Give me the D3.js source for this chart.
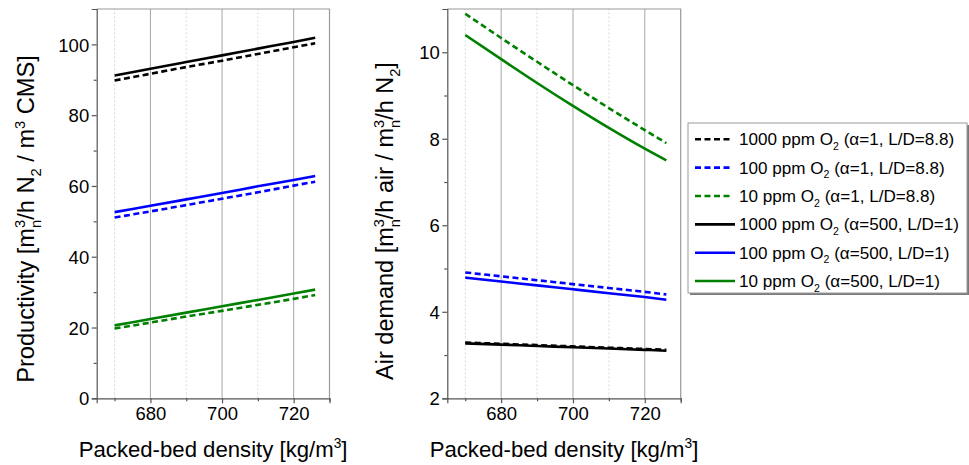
<!DOCTYPE html>
<html>
<head>
<meta charset="utf-8">
<script src="https://cdn.jsdelivr.net/npm/d3@7"></script>
<style>
  body { margin: 0; background: #fff; }
  text { font-family: Arial, "Liberation Sans", sans-serif; fill: #000; }
</style>
</head>
<body>
<svg id="chart" width="969" height="465"></svg>
<script>
// packed-bed density values (x)
const density = [670, 680, 690, 700, 710, 720, 726];

// productivity [m3n/h N2 / m3 CMS]
const prodBlackDash = [89.8, 91.7, 93.6, 95.4, 97.3, 99.2, 100.3];
const prodBlueDash  = [51.1, 52.8, 54.6, 56.4, 58.2, 60.1, 61.2];
const prodGreenDash = [19.7, 21.4, 23.1, 24.7, 26.4, 28.1, 29.2];
const prodBlack     = [91.2, 93.1, 95.0, 96.9, 98.8, 100.7, 101.9];
const prodBlue      = [52.6, 54.4, 56.2, 58.0, 59.9, 61.7, 62.8];
const prodGreen     = [20.6, 22.4, 24.2, 26.0, 27.8, 29.6, 30.7];

// air demand [m3n/h air / m3n/h N2]
const airBlackDash = [3.29, 3.26, 3.23, 3.20, 3.17, 3.14, 3.12];
const airBlueDash  = [4.91, 4.82, 4.73, 4.64, 4.55, 4.46, 4.40];
const airGreenDash = [10.89, 10.33, 9.78, 9.24, 8.71, 8.20, 7.90];
const airBlack     = [3.27, 3.24, 3.21, 3.18, 3.15, 3.12, 3.10];
const airBlue      = [4.79, 4.70, 4.61, 4.52, 4.43, 4.34, 4.28];
const airGreen     = [10.40, 9.84, 9.29, 8.76, 8.25, 7.77, 7.50];

const legendLabels = [
  ['1000 ppm O', '2', ' (\u03b1=1, L/D=8.8)'],
  ['100 ppm O', '2', ' (\u03b1=1, L/D=8.8)'],
  ['10 ppm O', '2', ' (\u03b1=1, L/D=8.8)'],
  ['1000 ppm O', '2', ' (\u03b1=500, L/D=1)'],
  ['100 ppm O', '2', ' (\u03b1=500, L/D=1)'],
  ['10 ppm O', '2', ' (\u03b1=500, L/D=1)']
];
const seriesColors = ['#000000', '#0000ff', '#008000', '#000000', '#0000ff', '#008000'];
const seriesDashed = [true, true, true, false, false, false];

const xTicks = [680, 700, 720];
const xMinor = [670, 690, 710, 730];
const prodTicks = [0, 20, 40, 60, 80, 100];
const prodMinor = [10, 30, 50, 70, 90];
const airTicks = [2, 4, 6, 8, 10];
const airMinor = [3, 5, 7, 9];

const svg = d3.select('#chart');

// writes text with sub/superscripts; parts: string | ['^'|'_', text, stackedOnPrev]
function richText(textSel, parts, fs) {
  const small = fs * 0.62;
  let off = 0;
  parts.forEach(p => {
    if (typeof p === 'string') {
      textSel.append('tspan').attr('dy', -off).style('font-size', fs + 'px').text(p);
      off = 0;
    } else {
      const target = p[0] === '^' ? -0.4 * fs : 0.28 * fs;
      const t = textSel.append('tspan').attr('dy', target - off).style('font-size', small + 'px').text(p[1]);
      if (p[2]) t.attr('dx', -0.556 * small);
      off = target;
    }
  });
}

// same as richText but scales the font so the text is `len` px long
function fitText(textSel, parts, fs, len) {
  richText(textSel, parts, fs);
  const w = textSel.node().getBBox().width;
  textSel.selectAll('tspan').remove();
  const nf = fs * len / w;
  richText(textSel, parts, nf);
  return nf;
}

function drawPanel(cfg) {
  const x = d3.scaleLinear().domain([665, 730]).range([cfg.left, cfg.right]);
  const y = d3.scaleLinear().domain(cfg.yDomain).range([398.3, 9]);
  const g = svg.append('g');

  // vertical grid
  g.selectAll('.gmin').data(xMinor.filter(d => d < 730)).enter().append('line')
    .attr('x1', d => x(d)).attr('x2', d => x(d))
    .attr('y1', y.range()[0]).attr('y2', y.range()[1])
    .attr('stroke', '#d9d9d9').attr('stroke-width', 1).attr('stroke-dasharray', '2,2');
  g.selectAll('.gmaj').data(xTicks).enter().append('line')
    .attr('x1', d => x(d)).attr('x2', d => x(d))
    .attr('y1', y.range()[0]).attr('y2', y.range()[1])
    .attr('stroke', '#a6a6a6').attr('stroke-width', 1);

  // top and right frame
  g.append('path')
    .attr('d', `M${cfg.left},${y.range()[1]}H${cfg.right}V${y.range()[0]}`)
    .attr('fill', 'none').attr('stroke', '#9a9a9a').attr('stroke-width', 1.2);

  // series lines
  const line = d3.line().x((d, i) => x(density[i])).y(d => y(d)).curve(d3.curveMonotoneX);
  cfg.series.forEach((vals, k) => {
    g.append('path').datum(vals)
      .attr('d', line)
      .attr('fill', 'none')
      .attr('stroke', seriesColors[k])
      .attr('stroke-width', 2.6)
      .attr('stroke-dasharray', seriesDashed[k] ? '6,3.5' : null);
  });

  // axes
  const axColor = '#555';
  const yAx = g.append('g').attr('transform', `translate(${cfg.left},0)`)
    .call(d3.axisLeft(y).tickValues(cfg.yTicks).tickSize(5).tickPadding(2.5));
  g.append('g').attr('transform', `translate(${cfg.left},0)`)
    .call(d3.axisLeft(y).tickValues(cfg.yMinor).tickSize(3).tickFormat(''))
    .select('.domain').remove();
  g.append('g').attr('transform', `translate(0,${y.range()[0]})`)
    .call(d3.axisBottom(x).tickValues(xTicks).tickSize(5).tickPadding(4));
  g.append('g').attr('transform', `translate(0,${y.range()[0]})`)
    .call(d3.axisBottom(x).tickValues(xMinor).tickSize(3).tickFormat(''))
    .select('.domain').remove();
  g.selectAll('.domain, .tick line').attr('stroke', axColor).attr('stroke-width', 1.2);
  g.selectAll('.tick text').style('font-size', '18.5px').attr('fill', '#000');
  yAx.selectAll('.tick text').attr('dy', '0.36em');

  // x title
  const xt = g.append('text').attr('x', (cfg.left + cfg.right) / 2).attr('y', 456.5)
    .attr('text-anchor', 'middle');
  fitText(xt, ['Packed-bed density [kg/m', ['^', '3'], ']'], 22, 269);

  // y title
  const yt = g.append('text')
    .attr('transform', `translate(${cfg.titleX},${cfg.titleY}) rotate(-90)`)
    .attr('text-anchor', 'middle');
  fitText(yt, cfg.title, 22, cfg.titleLen);
}

drawPanel({
  left: 96.7, right: 329.5, yDomain: [0, 110],
  yTicks: prodTicks, yMinor: prodMinor, titleX: 34, titleY: 219, titleLen: 328,
  series: [prodBlackDash, prodBlueDash, prodGreenDash, prodBlack, prodBlue, prodGreen],
  title: ['Productivity [m', ['^', '3'], ['_', 'n', true], '/h N', ['_', '2'], ' / m', ['^', '3'], ' CMS]']
});

drawPanel({
  left: 447.3, right: 680.7, yDomain: [2, 11],
  yTicks: airTicks, yMinor: airMinor, titleX: 393, titleY: 221, titleLen: 318,
  series: [airBlackDash, airBlueDash, airGreenDash, airBlack, airBlue, airGreen],
  title: ['Air demand [m', ['^', '3'], ['_', 'n', true], '/h air / m', ['^', '3'], ['_', 'n', true], '/h N', ['_', '2'], ']']
});

// legend
const leg = svg.append('g').attr('transform', 'translate(688,123)');
leg.append('rect').attr('x', 2).attr('y', 2).attr('width', 279).attr('height', 170).attr('fill', '#7a7a7a');
leg.append('rect').attr('x', 0).attr('y', 0).attr('width', 279).attr('height', 170)
  .attr('fill', '#fff').attr('stroke', '#9a9a9a').attr('stroke-width', 1);
const rowH = 28.35;

// size the legend font from the widest row (row 4 ends just inside the box)
const probe = leg.append('text').attr('x', 0).attr('y', 0);
const legFs = fitText(probe, [legendLabels[3][0], ['_', legendLabels[3][1]], legendLabels[3][2]], 17.5, 220);
probe.remove();

legendLabels.forEach((lab, k) => {
  const cy = 16.3 + k * rowH;
  leg.append('line')
    .attr('x1', 7).attr('x2', seriesDashed[k] ? 42 : 47)
    .attr('y1', cy).attr('y2', cy)
    .attr('stroke', seriesColors[k]).attr('stroke-width', 2.6)
    .attr('stroke-dasharray', seriesDashed[k] ? '6,3.5' : null);
  const t = leg.append('text').attr('x', 51).attr('y', cy + 6);
  richText(t, [lab[0], ['_', lab[1]], lab[2]], legFs);
});
</script>
</body>
</html>
